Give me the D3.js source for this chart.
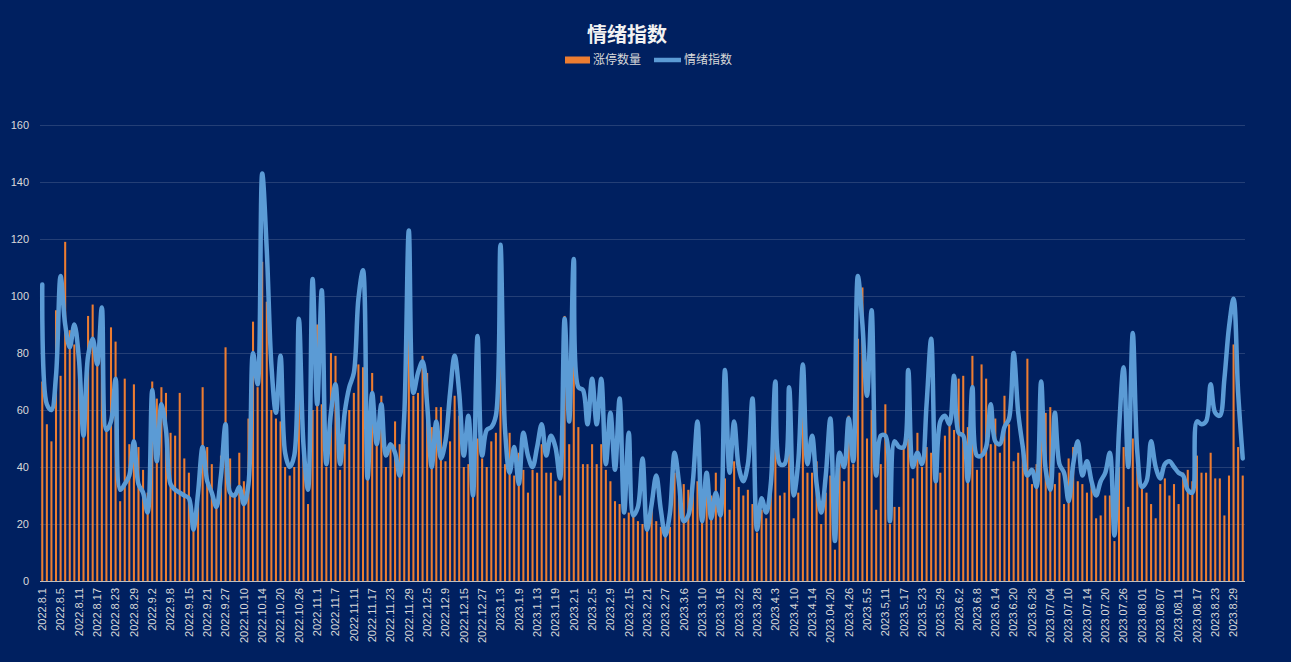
<!DOCTYPE html>
<html>
<head>
<meta charset="utf-8">
<title>情绪指数</title>
<script src="https://cdn.jsdelivr.net/npm/d3@7"></script>
<style>
  html, body { margin: 0; padding: 0; background: #002060; }
  svg { display: block; }
</style>
</head>
<body>
<div id="chart"></div>
<script>
"use strict";

// x tick labels, one every 4 trading days
var tickLabels = ["2022.8.1","2022.8.5","2022.8.11","2022.8.17","2022.8.23","2022.8.29","2022.9.2","2022.9.8","2022.9.15","2022.9.21",
  "2022.9.27","2022.10.10","2022.10.14","2022.10.20","2022.10.26","2022.11.1","2022.11.7","2022.11.11","2022.11.17","2022.11.23",
  "2022.11.29","2022.12.5","2022.12.9","2022.12.15","2022.12.27","2023.1.3","2023.1.9","2023.1.13","2023.1.19","2023.2.1",
  "2023.2.5","2023.2.9","2023.2.15","2023.2.21","2023.2.27","2023.3.6","2023.3.10","2023.3.16","2023.3.22","2023.3.28",
  "2023.4.3","2023.4.10","2023.4.14","2023.04.20","2023.4.26","2023.5.5","2023.5,11","2023.5.17","2023.5.23","2023.5.29",
  "2023.6.2","2023.6.8","2023.6.14","2023.6.20","2023.6.28","2023.07.04","2023.07.10","2023.07.14","2023.07.20","2023.07.26",
  "2023.08.01","2023.08.07","2023.08.11","2023.08.17","2023.8.23","2023.8.29"];
var tickEvery = 4;

// 涨停数量
var limitUp = [
  70,55,49,95,72,119,88,83,82,55,
  93,97,78,80,53,89,84,28,71,48,
  69,47,39,31,70,64,68,66,52,51,
  66,43,38,18,27,68,47,41,26,44,
  82,43,31,45,35,57,91,68,112,98,
  60,57,56,40,37,40,65,45,27,60,
  90,62,40,80,79,39,48,60,66,76,
  75,48,73,49,65,40,48,56,48,48,
  97,65,66,79,73,54,61,61,42,49,
  65,58,40,41,30,50,43,40,49,52,
  92,41,52,37,45,39,31,39,38,48,
  38,38,35,30,93,48,79,54,41,41,
  48,41,48,39,35,28,27,22,24,23,
  21,20,18,29,21,19,17,19,38,34,
  34,32,31,35,31,37,30,38,26,36,
  25,42,33,30,32,27,17,25,22,32,
  47,30,31,49,22,31,59,38,38,42,
  20,31,37,11,45,35,58,41,85,103,
  50,60,25,41,62,20,26,26,47,50,
  36,52,40,47,45,51,38,51,55,53,
  71,72,54,79,39,76,71,48,57,45,
  65,55,42,45,48,78,34,41,60,59,
  61,34,38,27,43,47,35,34,31,35,
  22,23,30,30,14,40,47,26,50,40,
  33,31,27,22,34,36,30,34,27,38,
  39,35,44,38,38,45,36,36,23,37,
  83,47,37];

// 情绪指数
var sentiment = [
  104,62,60,72,107,90,82,90,78,51,
  79,85,76,96,53,56,71,32,34,37,
  49,34,31,24,67,42,62,53,34,32,
  31,30,29,18,31,47,35,31,26,37,
  55,31,30,33,27,34,80,69,143,116,
  76,59,79,45,40,44,92,48,32,106,
  62,102,41,59,69,41,59,68,73,99,
  109,36,66,48,62,44,48,45,37,58,
  123,66,73,77,62,40,56,43,49,66,
  79,66,44,58,30,86,44,53,54,58,
  118,53,38,47,34,52,44,40,47,55,
  44,51,47,36,92,56,113,68,67,55,
  71,55,71,41,59,39,64,24,52,23,
  26,43,18,27,37,25,16,24,45,34,
  21,23,35,56,21,38,22,31,23,74,
  38,56,40,35,41,64,18,29,24,34,
  70,41,41,68,30,42,76,41,51,34,
  24,37,57,14,45,40,57,42,107,90,
  65,95,37,51,51,21,49,47,47,74,
  40,45,41,62,85,35,56,58,55,72,
  52,51,35,68,44,44,47,62,49,48,
  54,57,80,59,47,37,39,33,70,39,
  32,59,41,38,28,41,49,37,42,35,
  30,35,38,45,16,53,75,40,87,45,
  33,35,49,40,36,41,42,40,38,37,
  32,31,56,55,56,69,59,58,71,89,
  99,66,43];

var categories = d3.range(limitUp.length);

(function () {
  window.addEventListener("load", init);

  function init() {
    drawChart();
  }

  function drawChart() {
    var width = 1291, height = 662;
    var plot = {left: 40, right: 1245, top: 125, bottom: 581};
    var textColor = "#d9d9d9";

    var svg = d3.select("#chart").append("svg")
      .attr("width", width)
      .attr("height", height);

    svg.append("rect")
      .attr("width", width).attr("height", height)
      .attr("fill", "#002060");

    var x = d3.scaleBand()
      .domain(categories)
      .range([plot.left, plot.right])
      .paddingInner(0.55)
      .paddingOuter(0.27);
    var xc = function (i) { return x(i) + x.bandwidth() / 2; };

    var y = d3.scaleLinear()
      .domain([0, 160])
      .range([plot.bottom, plot.top]);

    // grid + y labels
    var yAxis = svg.append("g")
      .attr("transform", "translate(" + plot.left + ",0)")
      .call(d3.axisLeft(y).tickValues(d3.range(0, 161, 20))
        .tickSize(-(plot.right - plot.left)).tickPadding(11));
    yAxis.select(".domain").remove();
    yAxis.selectAll(".tick line")
      .attr("stroke", "#ffffff")
      .attr("stroke-opacity", function (d) { return d === 0 ? 0 : 0.14; });
    yAxis.selectAll(".tick text")
      .attr("fill", textColor)
      .style("font-family", "'Liberation Sans', Arial, sans-serif")
      .style("font-size", "11px");

    // bars
    svg.append("g").selectAll("rect")
      .data(categories)
      .enter().append("rect")
      .attr("x", function (i) { return x(i); })
      .attr("y", function (i) { return y(limitUp[i]); })
      .attr("width", x.bandwidth())
      .attr("height", function (i) { return y(0) - y(limitUp[i]); })
      .attr("fill", "#ED7D31");

    // x axis
    var xAxis = svg.append("g")
      .attr("transform", "translate(0," + plot.bottom + ")")
      .call(d3.axisBottom(x)
        .tickValues(categories.filter(function (i) { return i % tickEvery === 0; }))
        .tickFormat(function (i) { return tickLabels[i / tickEvery]; })
        .tickSize(0));
    xAxis.select(".domain")
      .attr("stroke", "#bfbfbf")
      .attr("d", "M" + plot.left + ",0.5H" + plot.right);
    xAxis.selectAll(".tick text")
      .attr("fill", textColor)
      .style("font-family", "'Liberation Sans', Arial, sans-serif")
      .style("font-size", "11px")
      .attr("text-anchor", "end")
      .attr("transform", "rotate(-90)")
      .attr("x", -7)
      .attr("y", 0)
      .attr("dy", "0.35em");

    // sentiment line
    var line = d3.line()
      .x(function (i) { return xc(i); })
      .y(function (i) { return y(sentiment[i]); })
      .curve(d3.curveCatmullRom.alpha(0.5));

    svg.append("path")
      .attr("d", line(categories))
      .attr("fill", "none")
      .attr("stroke", "#5B9BD5")
      .attr("stroke-width", 4.5)
      .attr("stroke-linejoin", "round")
      .attr("stroke-linecap", "round");

    // title
    svg.append("text")
      .attr("x", 627).attr("y", 42)
      .attr("text-anchor", "middle")
      .attr("fill", "#f2f2f2")
      .style("font-family", "'Noto Sans CJK SC', sans-serif")
      .style("font-size", "20px")
      .style("font-weight", "bold")
      .text("情绪指数");

    // legend
    var legend = svg.append("g").attr("transform", "translate(565,60)");
    legend.append("rect")
      .attr("x", 0).attr("y", -3.5).attr("width", 25).attr("height", 7)
      .attr("fill", "#ED7D31");
    legend.append("text")
      .attr("x", 28).attr("y", 0).attr("dy", "0.35em")
      .attr("fill", textColor)
      .style("font-family", "'Noto Sans CJK SC', sans-serif")
      .style("font-size", "12px")
      .text("涨停数量");
    legend.append("line")
      .attr("x1", 89).attr("x2", 116).attr("y1", 0).attr("y2", 0)
      .attr("stroke", "#5B9BD5").attr("stroke-width", 4.5);
    legend.append("text")
      .attr("x", 119).attr("y", 0).attr("dy", "0.35em")
      .attr("fill", textColor)
      .style("font-family", "'Noto Sans CJK SC', sans-serif")
      .style("font-size", "12px")
      .text("情绪指数");
  }
})();
</script>
</body>
</html>
